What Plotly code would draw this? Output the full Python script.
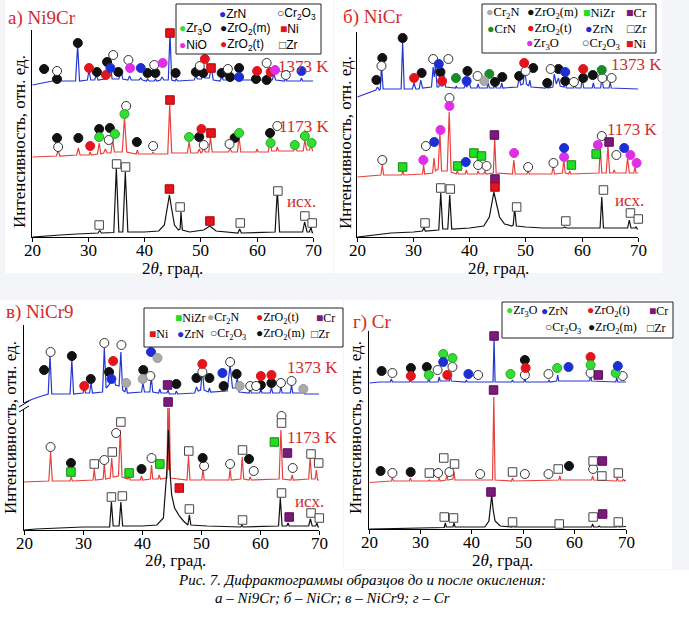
import plotly.graph_objects as go

W, H = 689, 622

# ======================= DATA =======================
# Panel a) Ni9Cr  -- patterns (2theta, intensity, arbitrary units)
A_1373_X = [20,22,23.6,24.0,24.3,25,27.7,28.07,28.4,29.8,30.1,30.4,31.1,31.4,31.7,32.9,33.3,33.6,33.9,34.2,35.4,35.8,36.1,37.0,37.3,37.6,39.0,39.3,39.6,40.3,40.5,40.8,41.7,41.9,42.2,42.8,43.1,43.4,44.2,44.5,44.8,45.4,45.6,45.9,48.8,49.1,49.4,50.1,50.4,50.7,51.5,51.85,52.2,53.4,53.7,54.0,54.9,55.2,55.5,56.5,56.8,57.1,59.8,60.05,60.3,61.4,61.7,62.0,62.7,63.0,63.3,64.9,65.1,65.3,67.7,67.9,68.1,70]
A_1373_Y = [152,154,156,160,157,156,156,192,156,157,167,157,157,162,157,158,165,160,172,158,158,167,158,157,161,157,157,159,157,156,158,156,156,158,156,157,160,157,157,204,157,156,158,156,157,161,158,158,165,159,159,170,157,156,160,157,157,163,158,158,169,157,157,161,157,157,162,157,157,163,157,156,159,156,156,159,156,156]
A_1173_X = [20,24.3,24.6,24.9,27.9,28.2,28.5,30.1,30.3,30.5,31.6,31.9,32.2,32.7,33.0,33.3,34.0,34.3,34.6,36.0,36.4,36.8,38.5,38.7,38.9,41.3,41.5,41.7,44.1,44.45,44.8,47.6,47.9,48.2,49.4,49.7,50.0,50.2,50.5,50.8,51.4,51.7,52.0,54.9,55.2,55.5,56.5,56.8,57.1,59.8,60.0,60.2,62.0,62.3,62.6,63.4,63.6,63.8,66.5,66.8,67.1,68.2,68.5,68.8,69.3,69.6,69.9,70]
A_1173_Y = [80,81,87,81,82,89,82,82,85,82,83,94,83,84,88,84,84,98,85,85,119,85,83,87,83,83,85,83,83,132,84,84,95,84,84,88,84,85,89,85,85,100,85,85,88,85,85,100,85,85,88,85,85,97,86,86,90,86,86,90,86,86,97,87,87,91,86,86]
A_INIT_X = [20,22,25,28,31.7,32.0,32.3,34.5,34.95,35.4,36.1,36.55,37,40,42.5,43.5,44.0,44.4,44.8,45.3,46.0,46.3,46.45,46.7,48,50.5,51.6,52.7,56.6,56.9,57.2,63.2,63.6,64.0,68.1,68.45,68.9,69.3,69.6,69.8,70]
A_INIT_Y = [0,1,2,3,4,6.5,4,4.5,69,5,5,65,5,5,6,12,30,42,28,12,7,8,25,7,5,7,11,6,4,8,4,5,47,5,5,15,5,5,10,4,5]

A_1373_MARKS = [("ZrO2(m)",22.1,168),("ZrO2(m)",24.4,158),("Cr2O3",24.4,166),("ZrO2(m)",28.1,194),
    ("ZrO2(t)",30.1,169),("ZrO2(m)",31.5,165),("ZrO2(t)",33.1,162),("ZrN",33.9,169),("ZrO2(m)",33.3,175),
    ("Cr2O3",34.4,182),("Cr2O3",37.1,177),("ZrO2(m)",35.3,165),("NiO",37.4,169),("ZrN",39.3,169),
    ("ZrO2(m)",40.5,164),("ZrO2(m)",41.9,164),("Cr2O3",41.7,172),("NiO",43.2,174),("Ni",44.5,204),
    ("ZrO2(m)",45.5,164),("Cr2O3",49.8,171),("ZrO2(t)",50.7,178),("ZrO2(m)",49.1,165),("ZrO2(m)",50.4,164),
    ("Ni",51.8,169),("ZrO2(m)",53.7,164),("Cr2O3",54.8,168),("ZrO2(m)",55.2,160),("ZrO2(m)",56.8,169),
    ("ZrN",56.8,160),("ZrO2(t)",60.0,166),("ZrO2(m)",59.8,158),("Cr2O3",61.7,174),("ZrO2(t)",62.4,165),
    ("ZrO2(m)",61.7,157),("NiO",63.2,167),("Cr2O3",65.1,162),("ZrN",67.9,166)]
A_1173_MARKS = [("ZrO2(m)",24.4,99),("Cr2O3",24.6,90),("ZrO2(m)",28.2,99),("ZrO2(t)",30.3,91),("Zr3O",31.9,100),
    ("ZrO2(m)",31.9,108),("ZrO2(m)",33.8,109),("Cr2O3",33.6,97),("Zr3O",34.7,103),("Cr2O3",36.7,131),
    ("Zr3O",36.4,123),("ZrO2(m)",38.6,95),("Cr2O3",41.5,91),("Ni",44.5,137),("Zr3O",47.9,100),
    ("ZrO2(m)",49.7,100),("Cr2O3",50.5,92),("ZrO2(t)",50.1,108),("Ni",51.8,104),("Cr2O3",55.1,93),
    ("ZrO2(m)",56.0,99),("Zr3O",56.8,104),("ZrO2(m)",62.3,104),("Zr3O",62.4,94),("Cr2O3",63.6,111),
    ("Zr3O",66.7,92),("Zr3O",68.5,101),("Zr3O",69.7,94)]
A_INIT_MARKS = [("Zr",31.9,12),("Zr",35.0,73),("Zr",36.6,70),("Ni",44.4,48),("Zr",46.3,30),("Ni",51.6,16),
    ("Zr",57.0,14),("Zr",63.7,46),("Zr",68.5,21),("Zr",69.8,14)]

# Panel б) NiCr
B_1373_X = [20,22,23.3,23.6,23.9,24.1,24.3,24.6,27.8,28.07,28.35,29.8,30.1,30.4,31.0,31.3,31.6,33.2,33.5,33.7,33.9,34.2,34.5,34.7,34.9,35.2,35.4,35.7,37.5,37.6,37.8,39.0,39.2,39.5,39.9,40.2,41.3,41.5,41.7,43.1,43.3,43.5,44.3,44.5,44.7,45.5,45.7,45.9,48.5,48.8,49.1,49.5,49.8,50.1,50.5,50.7,50.9,53.5,53.7,53.9,54.8,55.05,55.4,55.8,56.1,56.8,57.0,57.2,58.5,58.7,58.9,59.8,60.0,60.3,61.8,62.0,62.2,63.3,63.5,63.8,64.8,65.0,65.2,70]
B_1373_Y = [140,144,147,150,147,148,172,148,148,195,148,148,154,148,148,157,149,150,170,160,172,150,150,155,151,151,162,150,149,151,149,149,152,150,155,149,149,153,149,149,154,149,149,152,149,149,154,149,150,159,152,153,167,153,151,157,150,149,152,149,150,163,153,159,151,150,155,149,149,153,149,149,158,149,149,154,149,149,159,149,149,155,149,148]
B_1173_X = [20,24,24.2,24.45,24.7,27.9,28.1,28.3,31.6,31.8,32.0,33.4,33.65,33.9,34.4,34.7,35.0,36.0,36.35,36.7,37.6,37.8,38.0,39.2,39.4,39.6,41.3,41.5,41.7,42.5,42.7,42.9,44.2,44.45,44.7,47.6,47.85,48.1,50.2,50.4,50.6,54.6,54.85,55.1,56.5,56.75,57.0,57.6,57.8,58.0,63.0,63.25,63.5,64.3,64.6,64.9,65.5,65.7,65.9,67.8,68.1,68.4,69.2,69.4,69.6,70]
B_1173_Y = [60,62,62,72,62,62,66,62,63,72,63,64,79,66,68,105,66,66,125,65,63,66,63,63,67,63,63,66,63,63,66,63,64,99,64,63,77,63,63,66,63,63,70,63,64,77,64,63,66,63,64,90,64,64,91,64,64,67,64,64,79,64,64,70,64,64]
B_INIT_X = [20,23,26,30,31.6,31.85,32.1,34.5,34.85,35.2,36.1,36.45,36.8,40,42.5,43.5,44.0,44.3,44.7,45.3,46.2,47.5,47.75,48.0,48.3,50,53,56.6,56.9,57.2,63.2,63.5,63.8,68.1,68.4,68.7,69.4,69.6,69.8,70]
B_INIT_Y = [0,2,4,5,6,9.5,6,7,44,8,8,42,8,9,11,20,38,45,35,20,13,11,12,29,11,10,9,9,10,9,9,40,9,9,17,9,9,10,8,8]

B_1373_MARKS = [("ZrO2(m)",23.4,157),("ZrO2(m)",24.45,179),("Cr2O3",24.3,171),("ZrO2(m)",28.07,199),
    ("ZrO2(t)",30.1,159),("ZrO2(m)",31.45,164),("Cr2O3",33.5,178),("ZrN",34.5,173),("Cr2O3",36.2,178),
    ("ZrO2(m)",34.8,165),("ZrO2(t)",35.1,156),("CrN",37.55,159),("ZrN",39.45,156),("ZrO2(m)",39.6,166),
    ("Cr2O3",41.4,161),("Cr2N",42.6,156),("CrN",43.5,163),("ZrO2(m)",44.5,155),("ZrO2(m)",45.8,160),
    ("ZrO2(m)",48.8,161),("Cr2O3",49.95,166),("ZrO2(t)",49.7,174),("ZrO2(m)",51.3,169),("ZrO2(m)",53.8,154),
    ("Cr2O3",54.4,168),("ZrO2(m)",55.8,168),("ZrN",57.0,165),("ZrO2(m)",57.0,156),("Cr2O3",58.55,155),
    ("ZrO2(t)",60.2,168),("ZrO2(m)",60.2,159),("ZrO2(m)",61.9,162),("CrN",63.5,167),("Cr2O3",63.6,159),
    ("Cr2O3",65.25,159)]
B_1173_MARKS = [("Cr2O3",24.45,77),("NiZr",28.07,70),("Zr3O",31.75,77),("Cr2O3",32.2,91),("ZrN",33.7,95),
    ("Zr3O",34.8,107),("Cr2O3",36.4,139),("Zr3O",36.4,131),("NiZr",37.85,71),("ZrN",39.3,75),
    ("NiZr",40.75,84),("NiZr",42.1,81),("Cr2O3",41.5,72),("Cr2O3",43.0,71),("Cr",44.4,102),
    ("Zr3O",47.9,84),("Cr2O3",50.4,70),("Cr2O3",54.9,74),("Zr3O",56.8,80),("ZrN",56.8,89),
    ("NiZr",58.1,72),("NiZr",62.5,83),("Zr3O",62.8,92),("Cr",64.8,95),("Cr2O3",63.5,101),
    ("Cr2O3",66.1,82),("ZrN",67.5,89),("Zr3O",68.6,82),("Zr3O",69.7,74)]
B_INIT_MARKS = [("Zr",32.05,14),("Zr",34.85,49),("Zr",36.55,48),("Cr",44.5,58),("Ni",44.5,50),("Zr",48.35,30),
    ("Zr",57.1,16),("Zr",63.8,47),("Zr",68.6,24),("Zr",70.0,18)]

# Panel в) NiCr9
V_1373_X = [20,21.5,23,24.1,24.4,24.7,27.8,28.1,28.4,30.0,30.2,30.4,31.1,31.35,31.6,33.3,33.6,33.9,34.4,34.8,35.1,35.5,36.1,36.4,36.7,37.1,37.3,37.5,39.9,40.15,40.4,41.3,41.55,41.8,42.8,43.0,43.2,44.2,44.4,44.6,45.6,45.8,46.0,48.9,49.2,49.5,49.9,50.2,50.5,51.2,51.4,51.6,54.4,54.9,55.3,55.8,56.1,56.4,58.1,58.3,58.5,59.9,60.1,60.3,61.7,61.9,62.1,63.3,63.5,63.7,65.1,65.3,65.5,67.1,67.3,67.5,70]
V_1373_Y = [127,131,134,136,175,136,136,170,136,137,143,137,137,147,137,138,182,142,145,150,155,145,144,178,140,138,145,137,138,147,138,138,153,138,137,141,137,137,140,136,136,139,136,137,143,139,140,160,140,138,142,138,139,165,142,142,152,138,137,141,137,137,141,137,137,143,137,137,144,137,137,145,137,137,140,136,136]
V_1173_X = [20,24.2,24.5,24.8,27.8,28.0,28.2,31.7,31.9,32.1,33.4,33.6,33.8,34.6,34.85,35.1,36.0,36.3,36.6,37.6,37.8,38.0,39.7,39.9,40.1,41.4,41.6,41.8,42.7,42.9,43.1,44.2,44.35,44.5,44.6,44.8,47.6,47.85,48.1,50.1,50.3,50.5,54.7,54.9,55.1,56.7,56.95,57.2,58.1,58.3,58.5,63.2,63.5,63.8,65.2,65.4,65.6,68.2,68.45,68.7,69.3,69.5,69.7,70]
V_1173_Y = [48,49,78,49,49,53,49,50,61,50,51,67,51,52,72,53,54,100,53,51,54,50,50,54,50,51,65,51,51,55,51,52,122,60,122,52,50,74,50,50,61,50,50,61,50,51,73,51,50,53,50,51,100,51,50,55,50,51,73,51,51,60,50,50]
V_INIT_X = [20,22,26,30,34.5,34.8,35.1,36.1,36.4,36.7,40,42.5,43.6,44.2,44.45,44.7,45.0,45.5,46.3,47,47.75,48.0,48.25,51,56.7,56.9,57.1,63.1,63.4,63.7,64.5,64.7,64.9,68.2,68.5,68.8,69.4,69.6,69.8,70]
V_INIT_Y = [0,1,2,3,3,28,4,4,28,4,4,5,12,60,100,60,35,22,14,9,5,15,5,4,3,5,3,4,32,4,4,7,4,4,11,4,4,7,3,3]

V_1373_MARKS = [("ZrO2(m)",23.4,160),("Cr2O3",24.5,178),("ZrO2(m)",28.1,174),("ZrO2(t)",30.2,144),
    ("ZrO2(m)",31.3,151),("Cr2O3",33.6,187),("ZrO2(m)",34.4,158),("ZrO2(t)",35.1,169),("ZrN",34.8,151),
    ("Cr2O3",36.5,185),("Cr2N",37.3,147),("ZrO2(m)",40.2,160),("Cr2N",40.1,151),("Cr2O3",41.4,154),
    ("ZrN",41.5,178),("Cr2N",42.6,172),("Cr",44.3,145),("ZrO2(m)",45.8,146),("ZrO2(m)",49.2,152),
    ("Cr2O3",50.2,158),("ZrO2(t)",50.2,166),("ZrO2(m)",51.4,152),("ZrN",53.6,157),("ZrO2(m)",53.8,144),
    ("Cr2O3",54.9,168),("ZrO2(m)",56.0,156),("Cr2N",56.5,144),("Cr2O3",58.3,144),("Cr2O3",59.3,144),
    ("ZrO2(m)",60.1,145),("ZrO2(t)",60.1,154),("ZrO2(m)",61.9,147),("ZrO2(t)",61.9,155),("Cr2O3",63.5,147),
    ("Cr2O3",65.3,149),("Cr2N",67.3,141)]
V_1173_MARKS = [("Cr2O3",24.5,83),("ZrO2(m)",27.95,67),("NiZr",27.95,58),("Zr",31.9,66),("Cr2O3",33.6,70),
    ("Zr",34.95,78),("Cr2O3",35.6,97),("Zr",36.4,108),("NiZr",37.8,57),("ZrO2(m)",39.9,61),
    ("Cr2O3",41.6,72),("NiZr",43.0,66),("Cr",44.4,128),("Zr",47.9,79),("ZrO2(m)",50.25,72),
    ("Cr2O3",50.5,64),("Cr2O3",54.9,66),("Zr",57.0,80),("ZrO2(m)",58.1,71),("Cr2O3",58.9,59),
    ("NiZr",62.4,88),("Zr",63.6,107),("Cr2O3",63.6,114),("Cr",64.6,77),("Cr2O3",65.5,62),
    ("Zr",68.6,76),("Zr",69.9,67)]
V_INIT_MARKS = [("Zr",34.8,33),("Zr",36.65,34),("Ni",46.3,42),("Zr",48.0,21),("Zr",57.0,10),("Zr",63.6,37),
    ("Cr",64.9,13),("Zr",68.6,17),("Zr",70.0,12)]

# Panel г) Cr
G_1373_X = [20,22,24.1,24.3,24.5,27.8,28.0,28.2,31.4,31.6,31.8,33.4,33.6,33.8,35.6,35.8,36.0,38.7,38.9,39.1,44.1,44.3,44.5,47.7,47.9,48.1,50.1,50.3,50.5,54.8,55.0,55.2,56.5,56.7,56.9,62.9,63.1,63.3,68.0,68.2,68.4,69.8,70]
G_1373_Y = [146,147,147,150,147,147,149,147,147,150,147,147,152,148,148,154,148,147,149,147,147,191,147,147,149,147,147,150,147,147,149,147,148,154,148,148,154,148,147,151,147,147,147]
G_1173_X = [20,24.3,24.5,24.7,27.8,28.0,28.2,31.5,31.7,31.9,33.4,33.6,33.8,34.9,35.1,35.3,36.3,36.5,36.7,44.0,44.25,44.5,47.7,47.9,48.1,56.9,57.1,57.3,63.3,63.5,63.7,68.1,68.3,68.5,69.3,69.5,69.7,70]
G_1173_Y = [46.5,48,51,48,48,51,48,48,49,48,48,51,48,49,54,49,50,57,49,49,132,49,48,51,48,49,53,49,49,53,49,48,51,48,48,50,48,49]
G_INIT_X = [20,24,30,34.6,34.8,35.0,36.3,36.5,36.7,42.5,43.3,43.6,43.85,44.1,44.5,45.5,47.8,48.0,48.2,56.8,57.0,57.2,63.3,63.5,63.7,64.6,64.8,65,68.2,68.4,68.6,70]
G_INIT_Y = [0,0.5,1,1.5,6,2,2,6,2,2,8,20,34,20,8,3,2,4,2,2,3,2,2,5,2,2,3,2,2,3.5,2,2.5]

G_1373_MARKS = [("ZrO2(m)",22.4,158),("Cr2O3",24.5,156),("ZrO2(m)",28.1,161),("ZrO2(t)",28.1,153),
    ("ZrO2(m)",31.2,162),("Zr3O",31.6,154),("Cr2O3",33.3,159),("Zr3O",34.4,175),("ZrN",34.4,167),
    ("ZrO2(t)",35.2,154),("Zr3O",36.2,171),("Cr2O3",36.2,162),("ZrN",39.3,155),("Cr2O3",41.2,154),
    ("Cr",44.3,193),("Zr3O",47.5,155),("ZrO2(m)",50.3,169),("ZrO2(t)",50.45,161),("Cr2O3",50.3,154),
    ("Cr2O3",54.9,155),("Zr3O",56.6,161),("ZrN",58.8,162),("ZrO2(t)",63.1,172),("Zr3O",63.1,164),
    ("Cr2O3",63.1,156),("Cr",64.6,154),("ZrN",68.4,163),("Zr3O",68.0,156),("Cr2O3",69.35,153)]
G_1173_MARKS = [("ZrO2(m)",22.2,58),("Cr2O3",24.5,56),("ZrO2(m)",28.05,57),("Zr",31.7,56),("Cr2O3",33.4,56),
    ("Zr",34.5,71),("Cr2O3",35.6,57),("Zr",36.6,65),("Cr",44.2,139),("Cr2O3",41.6,55),("Zr",47.9,57),
    ("Cr2O3",50.3,55),("Cr2O3",54.9,55),("Zr",56.8,60),("ZrO2(m)",58.9,63),("Cr2O3",63.6,60),
    ("Zr",63.6,68),("Cr",65.4,68),("Zr",65.3,53),("Zr",68.5,56),("Zr",70.1,56)]
G_INIT_MARKS = [("Zr",34.6,12),("Zr",36.4,11),("Cr",43.7,37),("Zr",47.9,7),("Zr",57.0,5),("Zr",63.6,12),
    ("Cr",65.45,15),("Zr",68.5,7),("Zr",70.1,7)]

X_TICKS = [20, 30, 40, 50, 60, 70]
TEMP_LABELS = ["1373 K", "1173 K", "исх."]

# ======================= STYLE / LAYOUT =======================
SERIF = "Liberation Serif, Times New Roman, serif"
SANS = "Liberation Sans, Arial, sans-serif"
RED_TXT = "#d42a2a"
LINE_COLORS = ["#2536d0", "#e8403c", "#111111"]

STYLE = {
    "ZrO2(m)": ("circle", "#111111", "#111111"),
    "ZrO2(t)": ("circle", "#e3141b", "#e3141b"),
    "ZrN": ("circle", "#1d2fd2", "#1d2fd2"),
    "Zr3O": ("circle", "#33dd33", "#22aa22"),
    "NiO": ("circle", "#e02ee6", "#e02ee6"),
    "Cr2O3": ("circle", "#ffffff", "#333333"),
    "Cr2N": ("circle", "#aaaaaa", "#999999"),
    "CrN": ("circle", "#1a8a2a", "#1a8a2a"),
    "Ni": ("square", "#e3141b", "#b00000"),
    "NiZr": ("square", "#22dd22", "#118811"),
    "Cr": ("square", "#7a1a7a", "#5a0a5a"),
    "Zr": ("square", "#ffffff", "#444444"),
}
STYLE_B = dict(STYLE, **{"Zr3O": ("circle", "#e02ee6", "#e02ee6")})

def px(x):
    return x / W

def py(y):
    return 1 - y / H

PANELS = [
    dict(name="a", box=(32.3, 313.3, 30, 237), style=STYLE,
         lines=[(A_1373_X, A_1373_Y), (A_1173_X, A_1173_Y), (A_INIT_X, A_INIT_Y)],
         marks=[A_1373_MARKS, A_1173_MARKS, A_INIT_MARKS],
         labels=[(68.3, 170), (68.4, 110), (67.9, 35)]),
    dict(name="b", box=(357.3, 638.3, 32, 237), style=STYLE_B,
         lines=[(B_1373_X, B_1373_Y), (B_1173_X, B_1173_Y), (B_INIT_X, B_INIT_Y)],
         marks=[B_1373_MARKS, B_1173_MARKS, B_INIT_MARKS],
         labels=[(69.6, 173), (68.9, 108), (68.5, 37)]),
    dict(name="v", box=(24.0, 319.3, 325, 530), style=STYLE,
         lines=[(V_1373_X, V_1373_Y), (V_1173_X, V_1173_Y), (V_INIT_X, V_INIT_Y)],
         marks=[V_1373_MARKS, V_1173_MARKS, V_INIT_MARKS],
         labels=[(68.9, 163), (68.9, 93), (68.4, 29)]),
    dict(name="g", box=(369.3, 626.0, 331, 529), style=STYLE,
         lines=[(G_1373_X, G_1373_Y), (G_1173_X, G_1173_Y), (G_INIT_X, G_INIT_Y)],
         marks=[G_1373_MARKS, G_1173_MARKS, G_INIT_MARKS],
         labels=[(73.4, 175), (73.3, 77), (72.1, 19)]),
]

fig = go.Figure()
layout = dict(width=W, height=H, margin=dict(l=0, r=0, t=0, b=0),
              paper_bgcolor="white", plot_bgcolor="rgba(0,0,0,0)", showlegend=False)
shapes = []
annotations = []

# background panels
shapes.append(dict(type="rect", xref="paper", yref="paper", x0=0, x1=1, y0=py(570), y1=1,
                   fillcolor="#f3f5f8", line=dict(width=0), layer="below"))
for (x0, x1, y0, y1) in [(5, 333, 0, 273), (334, 662, 0, 273), (0, 343, 300, 570), (344, 672, 300, 569)]:
    shapes.append(dict(type="rect", xref="paper", yref="paper", x0=px(x0), x1=px(x1), y0=py(y1), y1=py(y0),
                       fillcolor="white", line=dict(width=0), layer="below"))

for i, p in enumerate(PANELS):
    n = "" if i == 0 else str(i + 1)
    xa, ya = "x" + n, "y" + n
    x0, x1, ytop, ybot = p["box"]
    layout["xaxis" + n] = dict(domain=[px(x0), px(x1)], range=[20, 70], anchor=ya,
                               showline=True, linecolor="black", linewidth=1, showgrid=False, zeroline=False,
                               tickvals=X_TICKS, ticks="outside", ticklen=4, tickcolor="black",
                               showticklabels=False)
    layout["yaxis" + n] = dict(domain=[py(ybot), py(ytop)], range=[0, ybot - ytop], anchor=xa,
                               showline=True, linecolor="black", linewidth=1, showgrid=False, zeroline=False,
                               showticklabels=False, ticks="")
    for t in X_TICKS:
        annotations.append(dict(xref=xa, yref="paper", x=t, y=py(ybot + 13), text=str(t), showarrow=False,
                                xanchor="center", yanchor="middle",
                                font=dict(family=SERIF, size=17, color="black")))
    for (lx, ly), col in zip(p["lines"], LINE_COLORS):
        fig.add_trace(go.Scatter(x=lx, y=ly, mode="lines", line=dict(color=col, width=1.2),
                                 xaxis=xa, yaxis=ya, hoverinfo="skip", cliponaxis=False))
    for marks in p["marks"]:
        phases = []
        for m in marks:
            if m[0] not in phases:
                phases.append(m[0])
        for ph in phases:
            sym, fill, edge = p["style"][ph]
            xs = [m[1] for m in marks if m[0] == ph]
            ys = [m[2] for m in marks if m[0] == ph]
            fig.add_trace(go.Scatter(x=xs, y=ys, mode="markers", xaxis=xa, yaxis=ya, cliponaxis=False,
                                     marker=dict(symbol=sym, size=9 if sym == "circle" else 8.5, color=fill,
                                                 line=dict(color=edge, width=1)),
                                     hoverinfo="skip"))
    for (tx, ty), txt in zip(p["labels"], TEMP_LABELS):
        annotations.append(dict(xref=xa, yref=ya, x=tx, y=ty, text=txt, showarrow=False,
                                font=dict(family=SERIF, size=17, color=RED_TXT), xanchor="center", yanchor="middle"))

# axis titles
for (cx, cy) in [(173, 268), (498, 268), (175, 560), (502, 560)]:
    annotations.append(dict(xref="paper", yref="paper", x=px(cx), y=py(cy), text="2<i>θ</i>, град.",
                            showarrow=False, xanchor="center", yanchor="middle",
                            font=dict(family=SERIF, size=17, color="black")))
for (cx, cy) in [(20, 142), (346, 142), (10, 428), (355, 428)]:
    annotations.append(dict(xref="paper", yref="paper", x=px(cx), y=py(cy), text="Интенсивность, отн. ед.",
                            textangle=-90, showarrow=False, xanchor="center", yanchor="middle",
                            font=dict(family=SERIF, size=17, color="black")))

# panel titles
for (tx, ty, txt) in [(6, 18, "а) Ni9Cr"), (341, 17, "б) NiCr"), (4, 312, "в) NiCr9"), (351, 322, "г) Cr")]:
    annotations.append(dict(xref="paper", yref="paper", x=px(tx), y=py(ty), text=txt, showarrow=False,
                            xanchor="left", yanchor="middle", font=dict(family=SERIF, size=19, color=RED_TXT)))

# legends
GLYPH = {("circle", True): "●", ("circle", False): "○", ("square", True): "■", ("square", False): "□"}
NAMES = {"ZrO2(m)": "ZrO<sub>2</sub>(m)", "ZrO2(t)": "ZrO<sub>2</sub>(t)", "Zr3O": "Zr<sub>3</sub>O",
         "Cr2O3": "Cr<sub>2</sub>O<sub>3</sub>", "Cr2N": "Cr<sub>2</sub>N"}
LEGENDS = [
    dict(box=(176, 321, 4, 54), font=SANS, size=12, style=STYLE,
         items=[("ZrN", 217, 14), ("Cr2O3", 275, 14), ("Zr3O", 177, 29), ("ZrO2(m)", 218, 29), ("Ni", 278, 29),
                ("NiO", 177, 45), ("ZrO2(t)", 218, 45), ("Zr", 277, 45)]),
    dict(box=(482, 656, 4, 53), font=SERIF, size=12.5, style=STYLE_B,
         items=[("Cr2N", 484, 13), ("ZrO2(m)", 525, 13), ("NiZr", 581, 13), ("Cr", 624, 13),
                ("CrN", 485, 29), ("ZrO2(t)", 525, 29), ("ZrN", 583, 29), ("Zr", 625, 29),
                ("Zr3O", 524, 44), ("Cr2O3", 580, 44), ("Ni", 624, 44)]),
    dict(box=(144, 343, 308, 347), font=SERIF, size=12, style=STYLE,
         items=[("NiZr", 173, 318), ("Cr2N", 205, 318), ("ZrO2(t)", 254, 318), ("Cr", 314, 318),
                ("Ni", 147, 334), ("ZrN", 175, 334), ("Cr2O3", 208, 334), ("ZrO2(m)", 254, 334), ("Zr", 309, 334)]),
    dict(box=(502, 673, 302, 338), font=SERIF, size=12, style=STYLE,
         items=[("Zr3O", 504, 311), ("ZrN", 539, 311), ("ZrO2(t)", 585, 311), ("Cr", 647, 311),
                ("Cr2O3", 543, 328), ("ZrO2(m)", 586, 328), ("Zr", 645, 328)]),
]
for lg in LEGENDS:
    bx0, bx1, by0, by1 = lg["box"]
    shapes.append(dict(type="rect", xref="paper", yref="paper", x0=px(bx0), x1=px(bx1), y0=py(by1), y1=py(by0),
                       fillcolor="white", line=dict(color="#222", width=1)))
    for ph, lx, ly in lg["items"]:
        sym, fill, edge = lg["style"][ph]
        filled = fill.lower() != "#ffffff"
        g = GLYPH[(sym, filled)]
        gc = fill if filled else "#333333"
        txt = f'<span style="color:{gc}">{g}</span>{NAMES.get(ph, ph)}'
        annotations.append(dict(xref="paper", yref="paper", x=px(lx), y=py(ly), text=txt, showarrow=False,
                                xanchor="left", yanchor="middle", font=dict(family=lg["font"], size=lg["size"], color="black")))

# axis break mark on panel в
shapes.append(dict(type="rect", xref="paper", yref="paper", x0=px(22), x1=px(26), y0=py(409), y1=py(403),
                   fillcolor="white", line=dict(width=0)))
for dy in (0, 5):
    shapes.append(dict(type="line", xref="paper", yref="paper", x0=px(19), x1=px(29), y0=py(407 + dy), y1=py(401 + dy),
                       line=dict(color="black", width=1)))

# caption
annotations.append(dict(xref="paper", yref="paper", x=px(362), y=py(590), showarrow=False,
                        text="<i>Рис. 7. Дифрактограммы образцов до и после окисления:</i>",
                        font=dict(family=SERIF, size=15, color="black")))
annotations.append(dict(xref="paper", yref="paper", x=px(332), y=py(608), showarrow=False,
                        text="<i>а – Ni9Cr; б – NiCr; в – NiCr9; г – Cr</i>",
                        font=dict(family=SERIF, size=15, color="black")))

layout["shapes"] = shapes
layout["annotations"] = annotations
fig.update_layout(**layout)
fig.write_html("out.html", config={"displayModeBar": False},
               post_script="document.body.style.margin='0';document.body.style.overflow='hidden';")
